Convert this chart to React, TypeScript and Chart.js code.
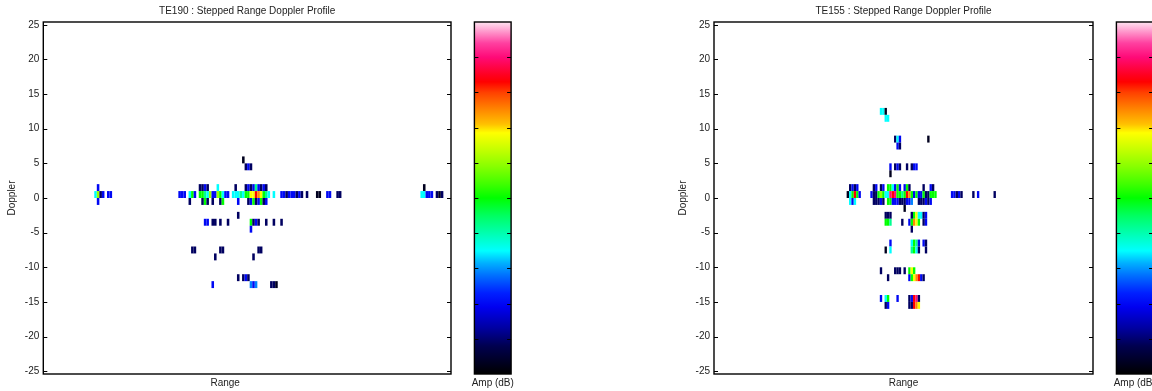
import React, { useEffect, useRef } from 'react';
import { Chart, registerables } from 'chart.js';

Chart.register(...registerables);

const FONT = "'Liberation Sans', Arial, Helvetica, sans-serif";

// Axes
const DOPPLER_TICKS = [-25, -20, -15, -10, -5, 0, 5, 10, 15, 20, 25];
const DOPPLER_MIN = -25.4;
const DOPPLER_MAX = 25.4;
const DOPPLER_STEP = 1;
const RANGE_MIN = 0;
const RANGE_MAX = 160;
const RANGE_STEP = 1;

// Colour scale (dB)
const AMP_MIN = 0;
const AMP_MAX = 50;
const COLORBAR_TICKS = [5, 10, 15, 20, 25, 30, 35, 40, 45];
const CMAP_POS = [0, 0.08, 0.13, 0.19, 0.23, 0.28, 0.315, 0.35, 0.4, 0.45, 0.5, 0.54, 0.59, 0.64, 0.685, 0.71, 0.75, 0.8, 0.83, 0.85, 0.9, 0.94, 0.97, 1];
const CMAP_COL = ['#000000', '#000050', '#0000a0', '#0000f0', '#0020ff', '#0070ff', '#00b0ff', '#00ffff', '#00ffb0', '#00ff60', '#00ff00', '#40ff00', '#88ff00', '#c8ff00', '#ffff00', '#ffc000', '#ff8800', '#ff4000', '#ff0000', '#ff0020', '#ff0a78', '#ff40a0', '#ff90c8', '#fde4f0'];

// Cells: [range bin, doppler bin centre, amplitude dB]
const TE190_CELLS: number[][] = [
  [78, 5.5, 1.5],
  [79, 4.5, 4.5], [80, 4.5, 10], [81, 4.5, 4.5],
  [21, 1.5, 10], [61, 1.5, 4.5], [62, 1.5, 4.5], [63, 1.5, 10], [64, 1.5, 4.5], [68, 1.5, 17.5], [75, 1.5, 4.5], [79, 1.5, 4.5], [80, 1.5, 10], [81, 1.5, 4.5], [82, 1.5, 10], [83, 1.5, 21], [84, 1.5, 10], [85, 1.5, 4.5], [86, 1.5, 10], [87, 1.5, 4.5], [149, 1.5, 1.5],
  [20, 0.5, 17.5], [21, 0.5, 30], [22, 0.5, 4.5], [23, 0.5, 10], [25, 0.5, 10], [26, 0.5, 10], [53, 0.5, 10], [54, 0.5, 10], [55, 0.5, 10], [57, 0.5, 17.5], [58, 0.5, 25], [59, 0.5, 10], [61, 0.5, 25], [62, 0.5, 25], [63, 0.5, 21], [64, 0.5, 17.5], [65, 0.5, 30], [66, 0.5, 10], [67, 0.5, 10], [68, 0.5, 30], [69, 0.5, 25], [70, 0.5, 17.5], [71, 0.5, 10], [72, 0.5, 10], [74, 0.5, 17.5], [75, 0.5, 17.5], [76, 0.5, 17.5], [77, 0.5, 21], [78, 0.5, 17.5], [79, 0.5, 25], [80, 0.5, 25], [81, 0.5, 34], [82, 0.5, 34], [83, 0.5, 41.5], [84, 0.5, 37.5], [85, 0.5, 34], [86, 0.5, 25], [87, 0.5, 21], [88, 0.5, 17.5], [90, 0.5, 17.5], [93, 0.5, 10], [94, 0.5, 10], [95, 0.5, 4.5], [96, 0.5, 10], [97, 0.5, 10], [98, 0.5, 10], [99, 0.5, 4.5], [100, 0.5, 10], [101, 0.5, 4.5], [103, 0.5, 4.5], [107, 0.5, 1.5], [108, 0.5, 1.5], [111, 0.5, 10], [112, 0.5, 10], [115, 0.5, 4.5], [116, 0.5, 4.5], [148, 0.5, 17.5], [149, 0.5, 17.5], [150, 0.5, 10], [151, 0.5, 10], [152, 0.5, 10], [154, 0.5, 4.5], [155, 0.5, 1.5], [156, 0.5, 4.5],
  [21, -0.5, 10], [57, -0.5, 4.5], [62, -0.5, 4.5], [63, -0.5, 25], [64, -0.5, 4.5], [66, -0.5, 4.5], [69, -0.5, 4.5], [70, -0.5, 25], [76, -0.5, 10], [80, -0.5, 4.5], [81, -0.5, 10], [82, -0.5, 25], [83, -0.5, 4.5], [84, -0.5, 10], [85, -0.5, 25], [86, -0.5, 4.5], [87, -0.5, 10],
  [76, -2.5, 4.5],
  [63, -3.5, 10], [64, -3.5, 10], [66, -3.5, 4.5], [67, -3.5, 4.5], [69, -3.5, 4.5], [72, -3.5, 4.5], [81, -3.5, 25], [82, -3.5, 4.5], [83, -3.5, 10], [84, -3.5, 4.5], [87, -3.5, 4.5], [90, -3.5, 4.5], [93, -3.5, 4.5],
  [81, -4.5, 10],
  [58, -7.5, 4.5], [59, -7.5, 4.5], [69, -7.5, 4.5], [70, -7.5, 4.5], [84, -7.5, 4.5], [85, -7.5, 4.5],
  [67, -8.5, 4.5], [82, -8.5, 4.5],
  [76, -11.5, 4.5], [78, -11.5, 4.5], [79, -11.5, 10], [80, -11.5, 4.5],
  [66, -12.5, 10], [81, -12.5, 14.5], [82, -12.5, 10], [83, -12.5, 14.5], [89, -12.5, 4.5], [90, -12.5, 4.5], [91, -12.5, 1.5],
];

const TE155_CELLS: number[][] = [
  [70, 12.5, 17.5], [71, 12.5, 17.5], [72, 12.5, 1.5],
  [72, 11.5, 17.5], [73, 11.5, 17.5],
  [76, 8.5, 4.5], [77, 8.5, 17.5], [78, 8.5, 10], [90, 8.5, 1.5],
  [77, 7.5, 10], [78, 7.5, 4.5],
  [74, 4.5, 10], [76, 4.5, 4.5], [77, 4.5, 10], [78, 4.5, 4.5], [81, 4.5, 4.5], [83, 4.5, 4.5], [84, 4.5, 10], [85, 4.5, 10],
  [74, 3.5, 1.5],
  [57, 1.5, 4.5], [58, 1.5, 10], [59, 1.5, 4.5], [60, 1.5, 10], [67, 1.5, 4.5], [68, 1.5, 10], [70, 1.5, 4.5], [71, 1.5, 10], [73, 1.5, 25], [74, 1.5, 25], [75, 1.5, 17.5], [76, 1.5, 10], [77, 1.5, 25], [78, 1.5, 10], [80, 1.5, 10], [81, 1.5, 25], [82, 1.5, 4.5], [88, 1.5, 4.5], [91, 1.5, 10], [92, 1.5, 4.5],
  [56, 0.5, 1.5], [57, 0.5, 17.5], [58, 0.5, 25], [59, 0.5, 41.5], [60, 0.5, 25], [61, 0.5, 10], [66, 0.5, 10], [67, 0.5, 4.5], [68, 0.5, 4.5], [69, 0.5, 25], [70, 0.5, 30], [71, 0.5, 25], [72, 0.5, 17.5], [73, 0.5, 17.5], [74, 0.5, 45], [75, 0.5, 41.5], [76, 0.5, 45], [77, 0.5, 25], [78, 0.5, 25], [79, 0.5, 21], [80, 0.5, 25], [81, 0.5, 41.5], [82, 0.5, 37.5], [83, 0.5, 25], [84, 0.5, 10], [85, 0.5, 25], [86, 0.5, 10], [87, 0.5, 10], [88, 0.5, 25], [89, 0.5, 4.5], [90, 0.5, 4.5], [91, 0.5, 25], [92, 0.5, 25], [93, 0.5, 25], [100, 0.5, 10], [101, 0.5, 10], [102, 0.5, 4.5], [103, 0.5, 10], [104, 0.5, 4.5], [109, 0.5, 4.5], [111, 0.5, 10], [118, 0.5, 4.5],
  [57, -0.5, 17.5], [58, -0.5, 10], [59, -0.5, 17.5], [67, -0.5, 4.5], [68, -0.5, 4.5], [69, -0.5, 4.5], [70, -0.5, 10], [71, -0.5, 4.5], [73, -0.5, 25], [74, -0.5, 25], [75, -0.5, 10], [76, -0.5, 10], [77, -0.5, 10], [78, -0.5, 4.5], [79, -0.5, 4.5], [80, -0.5, 4.5], [81, -0.5, 10], [82, -0.5, 10], [83, -0.5, 14.5], [86, -0.5, 4.5], [87, -0.5, 4.5], [88, -0.5, 4.5], [89, -0.5, 10], [90, -0.5, 4.5], [91, -0.5, 10],
  [80, -1.5, 1.5],
  [72, -2.5, 4.5], [73, -2.5, 4.5], [74, -2.5, 4.5], [83, -2.5, 4.5], [84, -2.5, 25], [85, -2.5, 34], [86, -2.5, 17.5], [87, -2.5, 17.5], [88, -2.5, 4.5], [89, -2.5, 10],
  [72, -3.5, 25], [73, -3.5, 25], [74, -3.5, 21], [79, -3.5, 4.5], [82, -3.5, 10], [83, -3.5, 25], [84, -3.5, 37.5], [85, -3.5, 34], [86, -3.5, 25], [88, -3.5, 4.5], [89, -3.5, 10],
  [83, -4.5, 4.5],
  [74, -6.5, 10], [83, -6.5, 17.5], [84, -6.5, 25], [85, -6.5, 21], [86, -6.5, 10], [88, -6.5, 10], [89, -6.5, 4.5],
  [72, -7.5, 1.5], [74, -7.5, 17.5], [83, -7.5, 21], [84, -7.5, 25], [85, -7.5, 17.5], [86, -7.5, 4.5], [89, -7.5, 4.5],
  [70, -10.5, 4.5], [76, -10.5, 4.5], [77, -10.5, 4.5], [78, -10.5, 4.5], [80, -10.5, 4.5], [82, -10.5, 25], [83, -10.5, 34], [84, -10.5, 25],
  [73, -11.5, 4.5], [82, -11.5, 10], [83, -11.5, 25], [84, -11.5, 34], [85, -11.5, 37.5], [86, -11.5, 41.5], [87, -11.5, 10], [88, -11.5, 4.5],
  [70, -14.5, 10], [72, -14.5, 17.5], [73, -14.5, 25], [77, -14.5, 10], [82, -14.5, 4.5], [83, -14.5, 10], [84, -14.5, 41.5], [85, -14.5, 45], [86, -14.5, 4.5],
  [72, -15.5, 4.5], [73, -15.5, 10], [82, -15.5, 4.5], [83, -15.5, 4.5], [84, -15.5, 41.5], [85, -15.5, 37.5], [86, -15.5, 34],
];

function hexToRgb(h: string) {
  const n = parseInt(h.slice(1), 16);
  return [(n >> 16) & 255, (n >> 8) & 255, n & 255];
}

function ampColor(amp: number) {
  let t = (amp - AMP_MIN) / (AMP_MAX - AMP_MIN);
  t = Math.max(0, Math.min(1, t));
  for (let i = 1; i < CMAP_POS.length; i++) {
    if (t <= CMAP_POS[i]) {
      const f = (t - CMAP_POS[i - 1]) / (CMAP_POS[i] - CMAP_POS[i - 1]);
      const a = hexToRgb(CMAP_COL[i - 1]);
      const b = hexToRgb(CMAP_COL[i]);
      const c = a.map((v, k) => Math.round(v + (b[k] - v) * f));
      return `rgb(${c[0]},${c[1]},${c[2]})`;
    }
  }
  return CMAP_COL[CMAP_COL.length - 1];
}

const heatmapPlugin = {
  id: 'heatmap',
  beforeDatasetsDraw(chart: any) {
    const xs = chart.scales.x;
    const ys = chart.scales.y;
    const ctx = chart.ctx;
    const area = chart.chartArea;
    ctx.save();
    ctx.fillStyle = '#ffffff';
    ctx.fillRect(area.left, area.top, area.right - area.left, area.bottom - area.top);
    ctx.beginPath();
    ctx.rect(area.left, area.top, area.right - area.left, area.bottom - area.top);
    ctx.clip();
    ctx.filter = 'blur(0.4px)';
    const data = chart.data.datasets[0].data;
    for (const p of data) {
      const x0 = xs.getPixelForValue(p.x - RANGE_STEP / 2);
      const x1 = xs.getPixelForValue(p.x + RANGE_STEP / 2);
      const y0 = ys.getPixelForValue(p.y + DOPPLER_STEP / 2);
      const y1 = ys.getPixelForValue(p.y - DOPPLER_STEP / 2);
      ctx.fillStyle = ampColor(p.a);
      ctx.fillRect(x0, y0, x1 - x0, y1 - y0);
    }
    ctx.restore();
  },
  afterDraw(chart: any, _args: any, opts: any) {
    const ctx = chart.ctx;
    const area = chart.chartArea;
    const ys = chart.scales.y;
    ctx.save();
    // plot box
    ctx.strokeStyle = '#000';
    ctx.lineWidth = 1.4;
    ctx.strokeRect(area.left, area.top, area.right - area.left, area.bottom - area.top);
    // inward ticks on both sides
    ctx.lineWidth = 1;
    ctx.beginPath();
    for (const v of DOPPLER_TICKS) {
      const y = Math.round(ys.getPixelForValue(v)) + 0.5;
      ctx.moveTo(area.left, y);
      ctx.lineTo(area.left + 4, y);
      ctx.moveTo(area.right, y);
      ctx.lineTo(area.right - 4, y);
    }
    ctx.stroke();

    // colour bar
    const cbL = area.right + opts.colorbarGap;
    const cbW = opts.colorbarWidth;
    const top = area.top;
    const bottom = area.bottom;
    const grad = ctx.createLinearGradient(0, bottom, 0, top);
    CMAP_POS.forEach((p, i) => grad.addColorStop(p, CMAP_COL[i]));
    ctx.fillStyle = grad;
    ctx.fillRect(cbL, top, cbW, bottom - top);
    ctx.lineWidth = 1.4;
    ctx.strokeRect(cbL, top, cbW, bottom - top);
    ctx.lineWidth = 1;
    ctx.beginPath();
    for (const v of COLORBAR_TICKS) {
      const y = Math.round(bottom - ((v - AMP_MIN) / (AMP_MAX - AMP_MIN)) * (bottom - top)) + 0.5;
      ctx.moveTo(cbL, y);
      ctx.lineTo(cbL + 4, y);
      ctx.moveTo(cbL + cbW, y);
      ctx.lineTo(cbL + cbW - 4, y);
    }
    ctx.stroke();

    // labels
    ctx.fillStyle = '#222';
    ctx.font = `10px ${FONT}`;
    ctx.textAlign = 'center';
    ctx.textBaseline = 'middle';
    ctx.fillText('Amp (dB)', cbL + cbW / 2, bottom + 9);
    ctx.fillText('Range', (area.left + area.right) / 2 + opts.rangeLabelShift, bottom + 9);
    ctx.restore();
  },
};

type PanelProps = {
  title: string;
  cells: number[][];
  padLeft: number;
  axisWidth: number;
  plotRight: number;
  rangeLabelShift: number;
};

const W = 576;
const H = 391;

function Panel({ title, cells, padLeft, axisWidth, plotRight, rangeLabelShift }: PanelProps) {
  const ref = useRef<HTMLCanvasElement | null>(null);
  useEffect(() => {
    if (!ref.current) return;
    const chart = new Chart(ref.current, {
      type: 'scatter',
      data: {
        datasets: [
          {
            data: cells.map(([r, d, a]) => ({ x: r + RANGE_STEP / 2, y: d, a })) as any,
            pointRadius: 0,
            pointHoverRadius: 0,
          },
        ],
      },
      plugins: [heatmapPlugin],
      options: {
        responsive: false,
        maintainAspectRatio: false,
        devicePixelRatio: 1,
        animation: false,
        events: [],
        layout: { padding: { left: padLeft, right: W - plotRight, top: 0, bottom: 0 } },
        scales: {
          x: {
            type: 'linear',
            min: RANGE_MIN,
            max: RANGE_MAX,
            ticks: { display: false },
            grid: { display: false, drawTicks: false },
            border: { display: false },
            afterFit: (s: any) => { s.height = 17; },
          },
          y: {
            type: 'linear',
            position: 'left',
            min: DOPPLER_MIN,
            max: DOPPLER_MAX,
            afterBuildTicks: (s: any) => { s.ticks = DOPPLER_TICKS.map((v) => ({ value: v })); },
            afterFit: (s: any) => { s.width = axisWidth; },
            ticks: { font: { family: FONT, size: 10 }, color: '#222', padding: 4 },
            grid: { display: false, drawTicks: false },
            border: { display: false },
            title: {
              display: true,
              text: 'Doppler',
              font: { family: FONT, size: 10 },
              color: '#222',
              padding: { top: 6, bottom: 0 },
            },
          },
        },
        plugins: {
          legend: { display: false },
          tooltip: { enabled: false },
          title: {
            display: true,
            text: title,
            fullSize: false,
            font: { family: FONT, size: 10, weight: 'normal' },
            color: '#222',
            padding: { top: 5, bottom: 5 },
          },
          heatmap: { colorbarGap: 23.4, colorbarWidth: 36.7, rangeLabelShift },
        } as any,
      },
    });
    return () => chart.destroy();
  }, []);
  return <canvas ref={ref} width={W} height={H} style={{ display: 'block', width: W, height: H }} />;
}

export default function App() {
  return (
    <div style={{ position: 'fixed', left: 0, top: 0, width: 1152, height: 391, display: 'flex', background: '#fff', overflow: 'hidden' }}>
      <Panel title="TE190 : Stepped Range Doppler Profile" cells={TE190_CELLS} padLeft={0} axisWidth={43.3} plotRight={451} rangeLabelShift={-22} />
      <Panel title="TE155 : Stepped Range Doppler Profile" cells={TE155_CELLS} padLeft={95} axisWidth={43} plotRight={517} rangeLabelShift={0} />
    </div>
  );
}
